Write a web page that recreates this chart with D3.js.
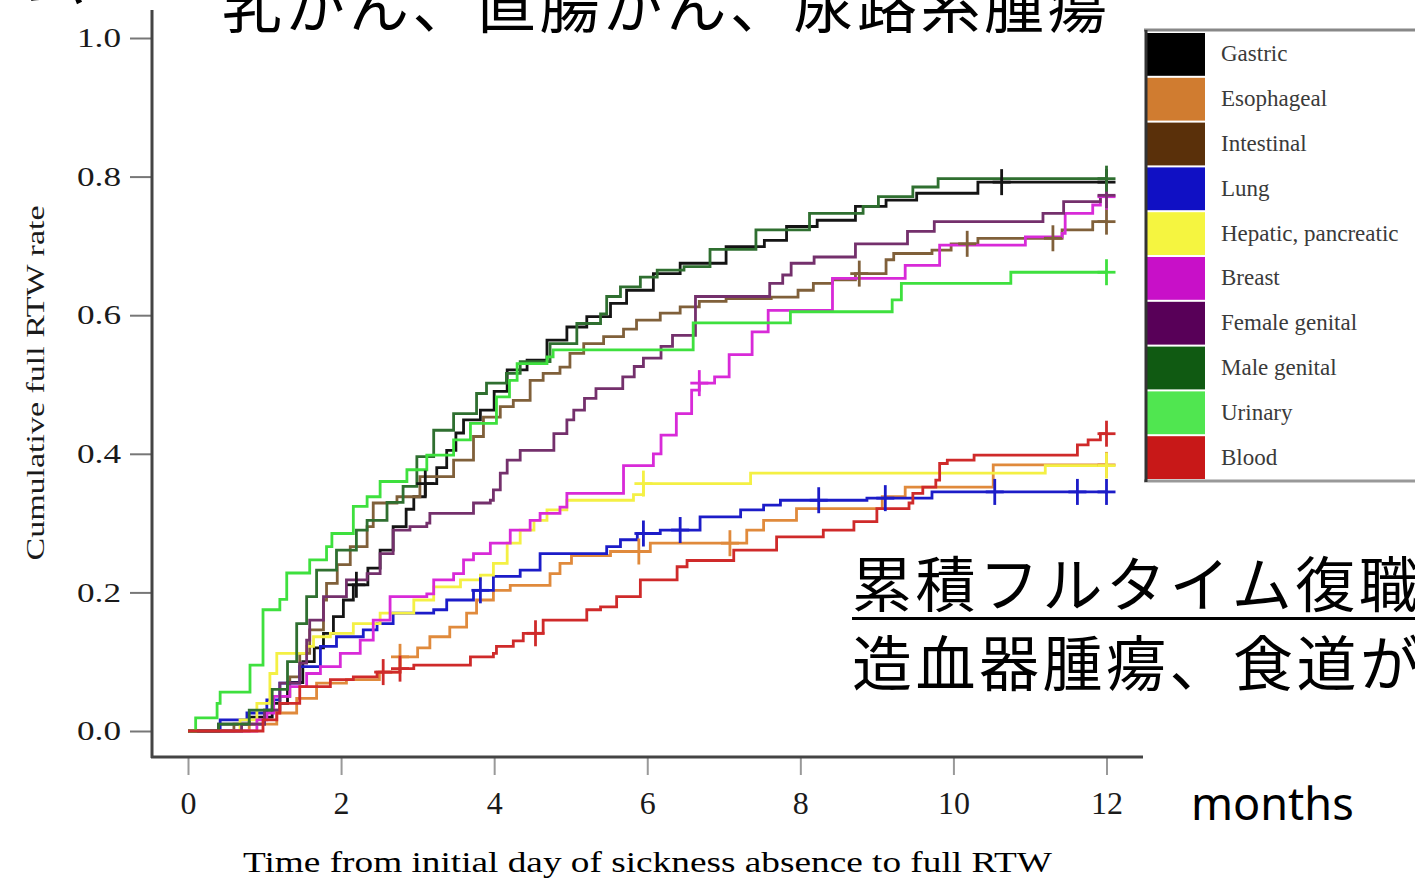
<!DOCTYPE html>
<html>
<head>
<meta charset="utf-8">
<script src="https://cdn.jsdelivr.net/npm/d3@7"></script>
<style>
  body { margin: 0; background: #fff; }
  svg { display: block; }
</style>
</head>
<body>
<div id="chart"></div>
<script>
// series names (legend order)
var seriesNames = ["Gastric", "Esophageal", "Intestinal", "Lung", "Hepatic, pancreatic",
                   "Breast", "Female genital", "Male genital", "Urinary", "Blood"];

// step data: [month, cumulative full RTW rate] - rate from that month on
var gastric = [[0,0],[0.4,0.01],[0.8,0.02],[1.1,0.04],[1.3,0.07],[1.5,0.1],[1.65,0.12],[1.77,0.141],[1.9,0.165],[2.03,0.189],[2.16,0.211],[2.35,0.235],[2.51,0.261],[2.68,0.295],[2.85,0.32],[2.95,0.338],[3.1,0.357],[3.25,0.38],[3.38,0.405],[3.5,0.43],[3.6,0.449],[3.82,0.463],[4.0,0.49],[4.17,0.521],[4.43,0.535],[4.69,0.564],[4.95,0.583],[5.21,0.598],[5.52,0.617],[5.73,0.636],[6.08,0.66],[6.43,0.675],[7.03,0.699],[7.53,0.708],[7.82,0.728],[8.22,0.737],[8.72,0.757],[9.12,0.766],[9.52,0.776],[10.32,0.792],[12,0.792]];
var esophageal = [[0,0],[0.8,0.01],[1.16,0.026],[1.42,0.047],[1.68,0.069],[2.07,0.074],[2.5,0.085],[2.77,0.107],[3.0,0.12],[3.16,0.136],[3.42,0.15],[3.64,0.17],[3.77,0.189],[3.99,0.203],[4.21,0.21],[4.73,0.227],[4.86,0.242],[5.01,0.253],[5.52,0.259],[6.04,0.271],[7.3,0.29],[7.52,0.304],[7.95,0.321],[9.07,0.338],[9.37,0.352],[10.52,0.384],[12,0.384]];
var intestinal = [[0,0],[0.6,0.01],[1.0,0.03],[1.2,0.05],[1.33,0.078],[1.46,0.112],[1.59,0.146],[1.77,0.189],[1.81,0.213],[1.95,0.24],[2.12,0.266],[2.34,0.295],[2.42,0.329],[2.73,0.338],[3.03,0.367],[3.47,0.391],[3.73,0.425],[3.86,0.453],[4.08,0.468],[4.25,0.477],[4.47,0.506],[4.64,0.516],[4.86,0.525],[4.99,0.545],[5.17,0.559],[5.43,0.569],[5.69,0.58],[5.86,0.593],[6.17,0.603],[6.43,0.612],[6.68,0.62],[7.03,0.624],[7.62,0.626],[7.97,0.636],[8.17,0.646],[8.42,0.651],[8.72,0.66],[9.12,0.68],[9.22,0.689],[9.72,0.694],[9.97,0.703],[10.32,0.711],[11.42,0.723],[11.82,0.735],[12,0.735]];
var lung = [[0,0],[0.42,0.016],[0.77,0.026],[1.03,0.045],[1.2,0.069],[1.46,0.093],[1.73,0.122],[1.94,0.136],[2.29,0.146],[2.47,0.155],[2.68,0.17],[3.21,0.175],[3.38,0.189],[3.73,0.203],[3.99,0.223],[4.34,0.232],[4.6,0.256],[5.47,0.266],[5.65,0.276],[5.87,0.285],[6.17,0.29],[6.69,0.309],[7.22,0.319],[7.52,0.326],[7.74,0.333],[8.87,0.336],[9.72,0.345],[12,0.345]];
var hepatic = [[0,0],[0.68,0.016],[0.9,0.04],[1.07,0.083],[1.16,0.112],[1.55,0.122],[1.64,0.136],[1.86,0.141],[2.16,0.155],[2.51,0.17],[2.95,0.189],[3.21,0.208],[3.56,0.218],[3.82,0.225],[3.99,0.242],[4.17,0.271],[4.34,0.29],[4.52,0.304],[4.69,0.319],[4.95,0.333],[5.82,0.341],[5.95,0.357],[7.35,0.372],[11.2,0.383],[12,0.383]];
var breast = [[0,0],[0.9,0.016],[1.03,0.026],[1.12,0.05],[1.33,0.064],[1.55,0.083],[1.73,0.093],[1.99,0.112],[2.25,0.131],[2.42,0.16],[2.64,0.194],[3.12,0.198],[3.21,0.218],[3.47,0.227],[3.6,0.247],[3.73,0.256],[3.95,0.271],[4.21,0.29],[4.47,0.304],[4.6,0.314],[4.86,0.323],[4.95,0.343],[5.69,0.383],[6.08,0.4],[6.18,0.427],[6.38,0.458],[6.58,0.492],[6.68,0.502],[6.88,0.511],[7.07,0.543],[7.37,0.576],[7.58,0.607],[8.42,0.653],[9.37,0.672],[9.82,0.701],[10.94,0.713],[11.42,0.718],[11.46,0.747],[11.82,0.759],[11.92,0.771],[12,0.771]];
var femaleGenital = [[0,0],[0.7,0.01],[1.0,0.03],[1.2,0.069],[1.46,0.098],[1.55,0.131],[1.59,0.16],[1.77,0.194],[2.07,0.218],[2.34,0.227],[2.51,0.256],[2.68,0.29],[2.9,0.295],[3.12,0.3],[3.16,0.314],[3.73,0.329],[3.95,0.333],[3.99,0.348],[4.08,0.372],[4.17,0.391],[4.34,0.405],[4.78,0.429],[4.95,0.449],[5.04,0.463],[5.18,0.48],[5.33,0.494],[5.68,0.511],[5.83,0.526],[5.95,0.538],[6.18,0.555],[6.33,0.571],[6.63,0.627],[7.6,0.646],[7.77,0.658],[7.88,0.675],[8.18,0.684],[8.72,0.703],[9.4,0.721],[9.75,0.735],[11.17,0.747],[11.44,0.764],[11.92,0.773],[12,0.773]];
var maleGenital = [[0,0],[0.4,0.01],[0.8,0.03],[1.1,0.06],[1.3,0.1],[1.42,0.155],[1.55,0.194],[1.68,0.232],[1.94,0.261],[2.2,0.29],[2.34,0.304],[2.6,0.33],[2.81,0.353],[2.99,0.396],[3.21,0.434],[3.47,0.458],[3.77,0.487],[3.9,0.502],[4.16,0.516],[4.34,0.533],[4.73,0.559],[5.08,0.588],[5.39,0.602],[5.47,0.627],[5.65,0.641],[5.91,0.655],[6.13,0.665],[6.48,0.67],[6.82,0.695],[7.42,0.723],[8.12,0.747],[8.82,0.757],[9.02,0.771],[9.47,0.785],[9.8,0.797],[12,0.797]];
var urinary = [[0,0],[0.1,0.019],[0.38,0.04],[0.42,0.056],[0.81,0.095],[0.98,0.175],[1.2,0.19],[1.29,0.228],[1.59,0.247],[1.81,0.266],[1.88,0.285],[2.16,0.324],[2.34,0.338],[2.51,0.36],[2.86,0.377],[3.12,0.398],[3.47,0.42],[3.69,0.444],[4.03,0.482],[4.2,0.506],[4.3,0.53],[4.69,0.54],[4.77,0.55],[6.6,0.589],[7.87,0.605],[9.2,0.622],[9.32,0.646],[10.75,0.662],[12,0.662]];
var blood = [[0,0],[0.98,0.016],[1.16,0.026],[1.2,0.04],[1.46,0.064],[1.86,0.074],[2.16,0.078],[2.47,0.085],[2.77,0.09],[2.95,0.095],[3.69,0.107],[3.99,0.112],[4.03,0.122],[4.25,0.13],[4.38,0.141],[4.64,0.16],[5.21,0.175],[5.39,0.179],[5.6,0.194],[5.91,0.218],[6.39,0.237],[6.52,0.246],[7.13,0.261],[7.69,0.28],[8.3,0.29],[8.7,0.302],[9.0,0.321],[9.42,0.329],[9.47,0.343],[9.6,0.352],[9.77,0.362],[9.82,0.386],[9.92,0.391],[10.27,0.398],[11.62,0.413],[11.76,0.42],[11.92,0.429],[12,0.429]];

// censored times (months)
var gastricCensor = [2.2, 3.1, 10.63, 12];
var esophagealCensor = [2.77, 5.89, 7.08, 12];
var intestinalCensor = [8.77, 10.18, 11.3, 12];
var lungCensor = [3.82, 5.95, 6.43, 8.24, 9.11, 10.54, 11.62, 12];
var hepaticCensor = [5.95, 12];
var breastCensor = [6.68, 12];
var femaleGenitalCensor = [12];
var maleGenitalCensor = [12];
var urinaryCensor = [12];
var bloodCensor = [2.55, 2.77, 4.54, 12];

var xTicks = [0, 2, 4, 6, 8, 10, 12];
var yTicks = [0, 0.2, 0.4, 0.6, 0.8, 1.0];

var allSteps = [gastric, esophageal, intestinal, lung, hepatic, breast, femaleGenital, maleGenital, urinary, blood];
var allCensors = [gastricCensor, esophagealCensor, intestinalCensor, lungCensor, hepaticCensor,
                  breastCensor, femaleGenitalCensor, maleGenitalCensor, urinaryCensor, bloodCensor];

// colours
var swatchColors = ["#000000", "#d07c30", "#5a300a", "#1010c4", "#f5f540",
                    "#c810c8", "#580058", "#105a12", "#50e650", "#c81818"];
var lineColors = ["#141414", "#e08a3c", "#80603a", "#1c1cc8", "#f4f044",
                  "#d82ad8", "#74306c", "#2f6f30", "#3ee03e", "#cf2a2a"];

var width = 1415, height = 878;

var svg = d3.select('#chart').append('svg')
    .attr('width', width)
    .attr('height', height);

var x = d3.scaleLinear().domain([0, 12]).range([188, 1106.5]);
var y = d3.scaleLinear().domain([0, 1]).range([731, 38]);

// axes
var yAxis = svg.append('g')
    .attr('transform', 'translate(152,0)')
    .call(d3.axisLeft(y).tickValues(yTicks).tickFormat(d3.format('.1f')).tickSize(22).tickPadding(9));
yAxis.select('.domain').remove();
yAxis.selectAll('.tick line').attr('stroke', '#777').attr('stroke-width', 2);
yAxis.selectAll('.tick text')
    .attr('font-family', 'Liberation Serif, serif')
    .attr('font-size', 27)
    .attr('fill', '#1a1a1a')
    .attr('textLength', 44)
    .attr('lengthAdjust', 'spacingAndGlyphs');

var xAxis = svg.append('g')
    .attr('transform', 'translate(0,757)')
    .call(d3.axisBottom(x).tickValues(xTicks).tickSize(18).tickPadding(16));
xAxis.select('.domain').remove();
xAxis.selectAll('.tick line').attr('stroke', '#999').attr('stroke-width', 2);
xAxis.selectAll('.tick text')
    .attr('font-family', 'Liberation Serif, serif')
    .attr('font-size', 32)
    .attr('fill', '#1a1a1a');

// axis lines
svg.append('line').attr('x1', 152).attr('x2', 152).attr('y1', 10).attr('y2', 758)
    .attr('stroke', '#444').attr('stroke-width', 3);
svg.append('line').attr('x1', 151).attr('x2', 1143).attr('y1', 757).attr('y2', 757)
    .attr('stroke', '#444').attr('stroke-width', 3);

// axis titles
svg.append('text')
    .attr('transform', 'translate(44,383) rotate(-90)')
    .attr('text-anchor', 'middle')
    .attr('font-family', 'Liberation Serif, serif')
    .attr('font-size', 26)
    .attr('fill', '#1a1a1a')
    .attr('textLength', 355)
    .attr('lengthAdjust', 'spacingAndGlyphs')
    .text('Cumulative full RTW rate');

svg.append('text')
    .attr('x', 243).attr('y', 872)
    .attr('font-family', 'Liberation Serif, serif')
    .attr('font-size', 30)
    .attr('fill', '#000')
    .attr('textLength', 809)
    .attr('lengthAdjust', 'spacingAndGlyphs')
    .text('Time from initial day of sickness absence to full RTW');

// step curves
var line = d3.line()
    .x(function(d){ return x(d[0]); })
    .y(function(d){ return y(d[1]); })
    .curve(d3.curveStepAfter);

function valueAt(steps, t) {
    var v = 0;
    for (var i = 0; i < steps.length; i++) {
        if (steps[i][0] <= t + 1e-9) v = steps[i][1];
    }
    return v;
}

var curves = svg.append('g');
allSteps.forEach(function(steps, i) {
    curves.append('path')
        .datum(steps)
        .attr('d', line)
        .attr('fill', 'none')
        .attr('stroke', lineColors[i])
        .attr('stroke-width', 2.8)
        .attr('stroke-linejoin', 'miter');
});

// censor marks
allCensors.forEach(function(times, i) {
    var marks = curves.selectAll('.cens' + i)
        .data(times)
        .enter()
        .append('g')
        .attr('transform', function(t){ return 'translate(' + x(t) + ',' + y(valueAt(allSteps[i], t)) + ')'; });
    marks.append('line').attr('x1', 0).attr('x2', 0).attr('y1', -13).attr('y2', 13)
        .attr('stroke', lineColors[i]).attr('stroke-width', 2.8);
    marks.append('line').attr('x1', -9).attr('x2', 9).attr('y1', 0).attr('y2', 0)
        .attr('stroke', lineColors[i]).attr('stroke-width', 2.8);
});

// legend
var legendTop = 32, rowH = 44.8;
var legend = svg.append('g');
legend.append('rect')
    .attr('x', 1145).attr('y', 30).attr('width', 300).attr('height', 452)
    .attr('fill', '#fff').attr('stroke', 'none');
legend.selectAll('.swatch')
    .data(seriesNames)
    .enter()
    .append('rect')
    .attr('x', 1147)
    .attr('y', function(d, i){ return legendTop + i * rowH + 1; })
    .attr('width', 58)
    .attr('height', rowH - 2)
    .attr('fill', function(d, i){ return swatchColors[i]; });
legend.selectAll('.legtext')
    .data(seriesNames)
    .enter()
    .append('text')
    .attr('x', 1221)
    .attr('y', function(d, i){ return legendTop + i * rowH + rowH / 2 + 7; })
    .attr('font-family', 'Liberation Serif, serif')
    .attr('font-size', 23)
    .attr('fill', '#3a3a3a')
    .text(function(d){ return d; });
legend.append('line').attr('x1', 1144).attr('x2', 1415).attr('y1', 30).attr('y2', 30)
    .attr('stroke', '#888').attr('stroke-width', 3);
legend.append('line').attr('x1', 1144).attr('x2', 1415).attr('y1', 481).attr('y2', 481)
    .attr('stroke', '#999').attr('stroke-width', 3);
legend.append('line').attr('x1', 1146).attr('x2', 1146).attr('y1', 30).attr('y2', 482)
    .attr('stroke', '#333').attr('stroke-width', 3);

// Japanese annotations
var jp = '"Noto Sans CJK JP", sans-serif';
svg.append('text')
    .attr('x', 26).attr('y', 2)
    .attr('font-family', jp).attr('font-size', 60).attr('fill', '#000')
    .text('ム');
svg.append('text')
    .attr('x', 222).attr('y', 28)
    .attr('font-family', jp).attr('font-size', 60).attr('fill', '#000')
    .attr('letter-spacing', 3.5)
    .text('乳がん、直腸がん、尿路系腫瘍');
svg.append('text')
    .attr('x', 852).attr('y', 607)
    .attr('font-family', jp).attr('font-size', 60).attr('fill', '#000')
    .attr('letter-spacing', 3.5)
    .text('累積フルタイム復職率');
svg.append('rect')
    .attr('x', 852).attr('y', 617).attr('width', 563).attr('height', 3)
    .attr('fill', '#000');
svg.append('text')
    .attr('x', 852).attr('y', 686)
    .attr('font-family', jp).attr('font-size', 60).attr('fill', '#000')
    .attr('letter-spacing', 3.5)
    .text('造血器腫瘍、食道がん');
svg.append('text')
    .attr('x', 1191).attr('y', 820)
    .attr('font-family', '"Noto Sans", sans-serif').attr('font-size', 45).attr('fill', '#000')
    .text('months');
</script>
</body>
</html>
